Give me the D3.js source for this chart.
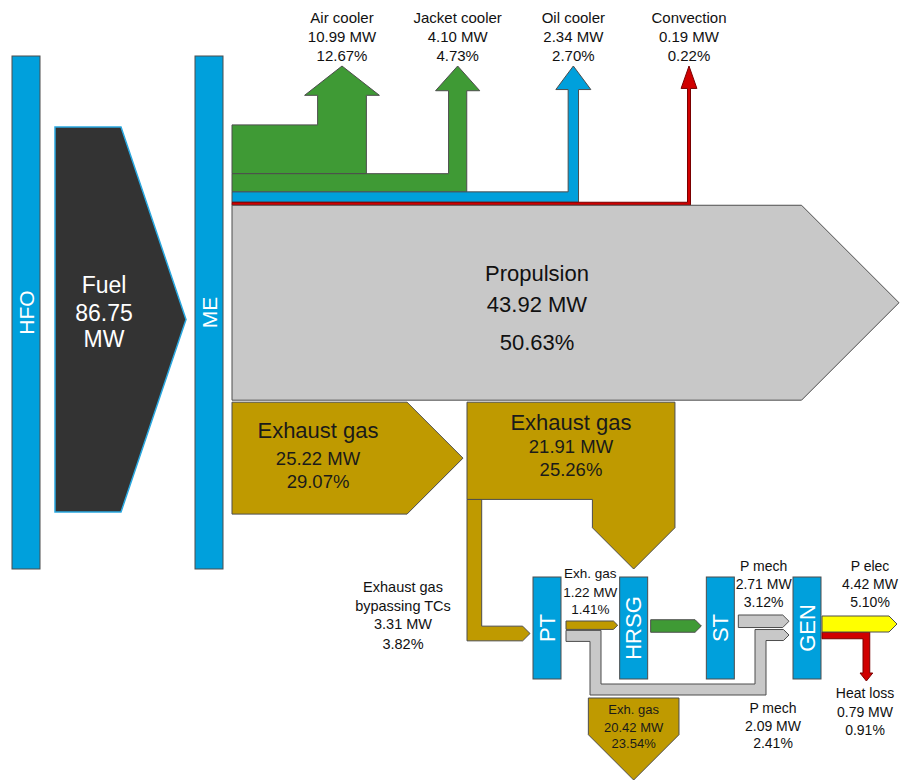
<!DOCTYPE html>
<html>
<head>
<meta charset="utf-8">
<script src="https://cdn.jsdelivr.net/npm/d3@7"></script>
<style>
body { margin: 0; background: #fff; }
text { font-family: "Liberation Sans", Arial, sans-serif; }
</style>
</head>
<body>
<div id="chart"></div>
<script>
const fuelMW = 86.75;
const mainNodes = ["HFO", "ME"];
const lowerNodes = ["PT", "HRSG", "ST", "GEN"];

const coolerNames = ["Air cooler", "Jacket cooler", "Oil cooler", "Convection"];
const coolerMW = [10.99, 4.10, 2.34, 0.19];
const coolerPct = [12.67, 4.73, 2.70, 0.22];

const propulsionMW = 43.92, propulsionPct = 50.63;
const exhaustMW = [25.22, 21.91];   // sortie ME / après TCs
const exhaustPct = [29.07, 25.26];
const bypassMW = 3.31, bypassPct = 3.82;
const exhPtMW = 1.22, exhPtPct = 1.41;
const exhOutMW = 20.42, exhOutPct = 23.54;
const pMechMW = [2.71, 2.09];        // ST, PT
const pMechPct = [3.12, 2.41];
const pElecMW = 4.42, pElecPct = 5.10;
const heatLossMW = 0.79, heatLossPct = 0.91;

const W = 900, H = 781;
const blue = "#00a0dc", green = "#3f9a35", gold = "#bf9a00", grey = "#c8c8c8",
      red = "#d00000", yellow = "#ffff00", dark = "#333333", edge = "#4d4d4d";

const svg = d3.select("#chart").append("svg").attr("width", W).attr("height", H);
const line = d3.line();
const poly = pts => line(pts) + "Z";
const fmt = d3.format(".2f");

// échelles : largeur des flux
const w = d3.scaleLinear().domain([0, fuelMW]).range([0, 385]);
const ws = d3.scaleSqrt().domain([0, pElecMW]).range([0, 16]);
const xMain = d3.scalePoint().domain(mainNodes).range([26, 209]);
const xLow = d3.scalePoint().domain(lowerNodes).range([547, 807]);
const xTip = d3.scalePoint().domain(coolerNames).range([342, 689]);

function arrowRight(x0, tip, y0, h) {
  return [[x0, y0], [tip - h / 2, y0], [tip, y0 + h / 2], [tip - h / 2, y0 + h], [x0, y0 + h]];
}
function shape(pts, fill, stroke, sw) {
  svg.append("path").attr("d", poly(pts)).attr("fill", fill)
    .attr("stroke", stroke || edge).attr("stroke-width", sw || 1).attr("stroke-linejoin", "miter");
}
function label(x, y, lines, size, color) {
  lines.forEach((t, i) => {
    svg.append("text").attr("x", x).attr("y", y[i]).attr("text-anchor", "middle")
      .attr("dominant-baseline", "central").attr("font-size", Array.isArray(size) ? size[i] : size)
      .attr("fill", color || "#111").text(t);
  });
}
function node(cx, y0, y1, name, size) {
  svg.append("rect").attr("x", cx - 14).attr("y", y0).attr("width", 28).attr("height", y1 - y0)
    .attr("fill", blue).attr("stroke", edge).attr("stroke-width", 1);
  svg.append("text").attr("transform", `translate(${cx},${(y0 + y1) / 2}) rotate(-90)`)
    .attr("text-anchor", "middle").attr("dominant-baseline", "central")
    .attr("font-size", size).attr("fill", "#fff").text(name);
}

// --- combustible et noeuds HFO / ME
const yMid = 319.5;
const hFuel = w(fuelMW);
mainNodes.forEach(n => node(xMain(n), 56, 569, n, 21));
const fTop = yMid - hFuel / 2, fTip = 186;
shape([[55, fTop], [fTip - 65, fTop], [fTip, yMid], [fTip - 65, fTop + hFuel], [55, fTop + hFuel]], dark, "#2aa8e0", 1.5);
label(104, [285, 313, 339], ["Fuel", fmt(fuelMW), "MW"], 23, "#fff");

// --- empilement des sorties du ME
const x0 = xMain("ME") + 23;
const coolH = coolerMW.map(v => Math.max(3, w(v)));
const total = d3.sum(coolH) + w(propulsionMW) + 2 + w(exhaustMW[0]);
let y = yMid - total / 2;
const coolColors = [green, green, blue, red];
const tipY = 66;
const bands = coolH.map(h => { const b = { y0: y, y1: y + h, h }; y += h; return b; });
bands.forEach((b, i) => {
  const t = xTip(coolerNames[i]);
  const xl = t - b.h / 2, xr = t + b.h / 2;
  const ov = Math.min(13, 4 + b.h * 0.8), base = tipY + 22 + 0.15 * b.h;
  shape([[x0, b.y0], [xl, b.y0], [xl, base], [xl - ov, base], [t, tipY], [xr + ov, base],
         [xr, base], [xr, b.y1], [x0, b.y1]], coolColors[i], i === 3 ? "#7a0000" : edge);
  label(t, [17, 36, 55], [coolerNames[i], fmt(coolerMW[i]) + " MW", fmt(coolerPct[i]) + "%"], 15);
});

// propulsion
const pTop = y, pH = w(propulsionMW);
shape(arrowRight(x0, 899, pTop, pH), grey);
const pMid = pTop + pH / 2;
label(537, [pMid - 29, pMid + 2, pMid + 40],
  ["Propulsion", fmt(propulsionMW) + " MW", fmt(propulsionPct) + "%"], 22);
y += pH + 2;

// gaz d'échappement
const eTop = y, eH = w(exhaustMW[0]), eTip = 463;
shape(arrowRight(x0, eTip, eTop, eH), gold);
const eMid = eTop + eH / 2;
label(318, [eMid - 28, eMid, eMid + 23],
  ["Exhaust gas", fmt(exhaustMW[0]) + " MW", fmt(exhaustPct[0]) + "%"], [22, 18.5, 18.5], "#1a1a1a");

// --- partie basse : PT, HRSG, ST, GEN
const nTop = 577, nBot = 679;
const left = n => xLow(n) - 14, right = n => xLow(n) + 14;

// bloc 21.91 MW et flèche vers HRSG
const hrsgX = xLow("HRSG");
const downW = w(exhaustMW[1] - bypassMW);
const bLeft = eTip + 4, bRight = hrsgX + downW / 2;
const bTop = eTop, bBot = bTop + w(exhaustMW[1]);
const dTip = nTop - 8, dSh = dTip - downW / 2;

// bypass vers PT
const bw = w(bypassMW), byMid = 633.5, byTip = left("PT") - 3;
shape([[bLeft, bBot], [bLeft + bw, bBot], [bLeft + bw, byMid - bw / 2], [byTip - bw / 2, byMid - bw / 2],
       [byTip, byMid], [byTip - bw / 2, byMid + bw / 2], [bLeft, byMid + bw / 2]], gold);
shape([[bLeft, bTop], [bRight, bTop], [bRight, dSh], [hrsgX, dTip], [bRight - downW, dSh],
       [bRight - downW, bBot], [bLeft, bBot]], gold);
const bMid = (bLeft + bRight) / 2;
label(bMid, [bTop + 20, bTop + 44, bTop + 67],
  ["Exhaust gas", fmt(exhaustMW[1]) + " MW", fmt(exhaustPct[1]) + "%"], [22, 18.5, 18.5], "#1a1a1a");
label(403, [587, 606, 624, 644],
  ["Exhaust gas", "bypassing TCs", fmt(bypassMW) + " MW", fmt(bypassPct) + "%"], 14.5);

lowerNodes.forEach(n => node(xLow(n), nTop, nBot, n, 22));

// gaz PT -> HRSG
const exTop = 621, exH = ws(exhPtMW);
shape(arrowRight(right("PT") + 5, left("HRSG") - 2, exTop, exH), gold);
label((right("PT") + left("HRSG")) / 2, [573, 592, 609],
  ["Exh. gas", fmt(exhPtMW) + " MW", fmt(exhPtPct) + "%"], 13.5);

// vapeur HRSG -> ST
const stH = ws(pMechMW[0]);
shape(arrowRight(right("HRSG") + 3, left("ST") - 5, 626 - stH / 2, stH), green);

// P mech ST -> GEN
const upTop = 615, genIn = left("GEN") - 4;
shape(arrowRight(right("ST") + 4, genIn, upTop, stH), grey);
label((right("ST") + left("GEN")) / 2, [566, 584, 602],
  ["P mech", fmt(pMechMW[0]) + " MW", fmt(pMechPct[0]) + "%"], 14);

// P mech PT -> GEN (boucle par le bas)
const gh = ws(pMechMW[1]), gTop = exTop + exH + 1;
const vx = right("PT") + 29, by = nBot + 5, v2x = left("GEN") - 38, fTop2 = upTop + stH + 2;
shape([[right("PT") + 5, gTop], [vx + gh, gTop], [vx + gh, by], [v2x, by], [v2x, fTop2],
       [genIn - gh / 2, fTop2], [genIn, fTop2 + gh / 2], [genIn - gh / 2, fTop2 + gh],
       [v2x + gh, fTop2 + gh], [v2x + gh, by + gh], [vx, by + gh], [vx, gTop + gh],
       [right("PT") + 5, gTop + gh]], grey);
label(773, [708, 726, 743], ["P mech", fmt(pMechMW[1]) + " MW", fmt(pMechPct[1]) + "%"], 14);

// sortie gaz HRSG
const oW = w(exhOutMW), oTop = 698, oTip = H - 1;
shape([[hrsgX - oW / 2, oTop], [hrsgX + oW / 2, oTop], [hrsgX + oW / 2, oTip - oW / 2], [hrsgX, oTip],
       [hrsgX - oW / 2, oTip - oW / 2]], gold);
label(hrsgX, [709, 727, 743], ["Exh. gas", fmt(exhOutMW) + " MW", fmt(exhOutPct) + "%"], 13, "#1a1a1a");

// P elec + pertes
const yH = ws(pElecMW), yTop = 616, rh = ws(heatLossMW), rx = 863;
const rTop = yTop + yH, rTip = 681, rBase = rTip - 8;
shape([[right("GEN") + 1, rTop], [rx + rh, rTop], [rx + rh, rBase], [rx + rh + 3, rBase], [rx + rh / 2, rTip],
       [rx - 3, rBase], [rx, rBase], [rx, rTop + rh], [right("GEN") + 1, rTop + rh]], red, "#7a0000");
shape(arrowRight(right("GEN") + 1, 897, yTop, yH), yellow);
label(870, [566, 584, 602], ["P elec", fmt(pElecMW) + " MW", fmt(pElecPct) + "%"], 14);
label(865, [693, 712, 730], ["Heat loss", fmt(heatLossMW) + " MW", fmt(heatLossPct) + "%"], 14);
</script>
</body>
</html>
